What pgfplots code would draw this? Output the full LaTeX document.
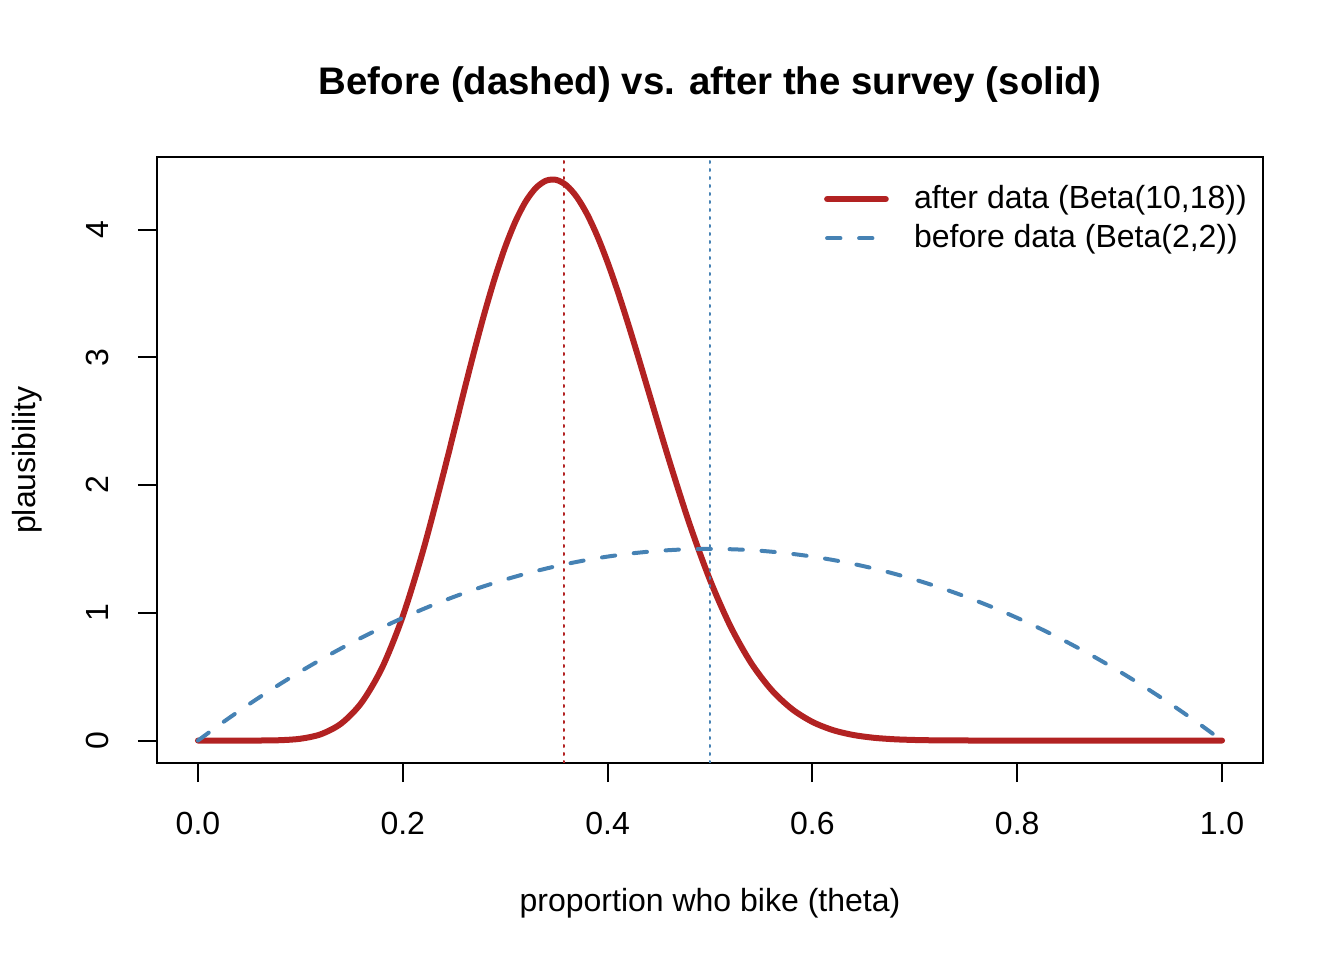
\documentclass[border=0pt]{standalone}
\usepackage{fontspec}
\setmainfont{Liberation Sans}
\usepackage{pgfplots}
\pgfplotsset{compat=1.18}
\definecolor{firebrick}{RGB}{178,34,34}
\definecolor{steelblue}{RGB}{70,130,180}
\begin{document}
\fontsize{12bp}{14.4bp}\selectfont
\begin{tikzpicture}
\begin{axis}[
  scale only axis, width=414.75bp, height=227.25bp,
  xmin=-0.04, xmax=1.04, ymin=-0.1757, ymax=4.5677,
  axis line style={line width=0.75bp},
  tick align=outside, xtick pos=bottom, ytick pos=left,
  major tick length=7.2bp,
  tick style={line width=0.75bp, black},
  xtick={0,0.2,0.4,0.6,0.8,1}, xticklabels={0.0,0.2,0.4,0.6,0.8,1.0},
  ytick={0,1,2,3,4}, yticklabels={0,1,2,3,4},
  ticklabel style={font=\fontsize{12bp}{14.4bp}\selectfont},
  xticklabel style={anchor=center, yshift=-15.4bp},
  yticklabel style={xshift=-15bp, rotate=90, anchor=center},
  xlabel={proportion who bike (theta)},
  ylabel={plausibility},
  xlabel style={at={(axis description cs:0.5,-0.231)}, anchor=center, font=\fontsize{12bp}{14.4bp}\selectfont},
  ylabel style={at={(axis description cs:-0.1175,0.5)}, anchor=center, font=\fontsize{12bp}{14.4bp}\selectfont},
  title={Before (dashed) vs. after the survey (solid)},
  title style={at={(axis description cs:0.5,1.094)}, anchor=center, font=\bfseries\fontsize{14.4bp}{17bp}\selectfont},
  legend style={draw=none, fill=none, at={(axis description cs:0.5955,0.972)}, anchor=north west,
    font=\fontsize{12bp}{14.4bp}\selectfont, row sep=0.2bp,
    /tikz/every odd column/.append style={column sep=7.5bp}},
  legend cell align=left,
  legend image code/.code={\draw[#1] (0bp,0bp) -- (22bp,0bp);},
]
\addplot[firebrick, line width=2.25bp, line cap=round, line join=round, smooth, tension=0.5] coordinates {
(0,0) (0.04,0) (0.06,0.0003) (0.08,0.0027) (0.10,0.0141) (0.12,0.0495) (0.14,0.1342) (0.16,0.2992)
(0.18,0.5734) (0.20,0.9727) (0.22,1.4913) (0.24,2.0985) (0.26,2.7407) (0.27,3.0544) (0.28,3.3516)
(0.29,3.6236) (0.30,3.8633) (0.31,4.0630) (0.32,4.2188) (0.33,4.3259) (0.34,4.3825) (0.35,4.3886)
(0.36,4.3446) (0.37,4.2537) (0.38,4.1200) (0.39,3.9479) (0.40,3.7433) (0.41,3.5132) (0.42,3.2636)
(0.43,3.0009) (0.44,2.7317) (0.46,2.1963) (0.48,1.6959)
(0.50,1.2571) (0.52,0.8939) (0.54,0.6090) (0.56,0.3968) (0.58,0.2467) (0.60,0.1460)
(0.62,0.0820) (0.64,0.0435) (0.66,0.0217) (0.68,0.0101) (0.70,0.0044) (0.72,0.0018) (0.76,0.0002)
(0.80,0) (0.90,0) (1.0,0)};
\addlegendentry{after data (Beta(10,18))}
\addplot[steelblue, line width=1.5bp, line cap=round, dash pattern=on 5bp off 7bp, smooth] coordinates {
(0,0) (0.025,0.14625) (0.05,0.285) (0.075,0.41625) (0.10,0.54) (0.125,0.65625) (0.15,0.765)
(0.175,0.86625) (0.20,0.96) (0.225,1.04625) (0.25,1.125) (0.275,1.19625) (0.30,1.26)
(0.325,1.31625) (0.35,1.365) (0.375,1.40625) (0.40,1.44) (0.425,1.46625) (0.45,1.485)
(0.475,1.49625) (0.50,1.5) (0.525,1.49625) (0.55,1.485) (0.575,1.46625) (0.60,1.44)
(0.625,1.40625) (0.65,1.365) (0.675,1.31625) (0.70,1.26) (0.725,1.19625) (0.75,1.125)
(0.775,1.04625) (0.80,0.96) (0.825,0.86625) (0.85,0.765) (0.875,0.65625) (0.90,0.54)
(0.925,0.41625) (0.95,0.285) (0.975,0.14625) (1.0,0)};
\addlegendentry{before data (Beta(2,2))}
\addplot[firebrick, line width=0.75bp, line cap=round, dash pattern=on 0.75bp off 2.25bp, forget plot] coordinates {(0.35714,-0.1757) (0.35714,4.5677)};
\addplot[steelblue, line width=0.75bp, line cap=round, dash pattern=on 0.75bp off 2.25bp, forget plot] coordinates {(0.5,-0.1757) (0.5,4.5677)};
\end{axis}
\path[use as bounding box] ([shift={(-58.875bp,-73.875bp)}]current axis.south west) rectangle ([shift={(30.375bp,58.875bp)}]current axis.north east);
\end{tikzpicture}
\end{document}
